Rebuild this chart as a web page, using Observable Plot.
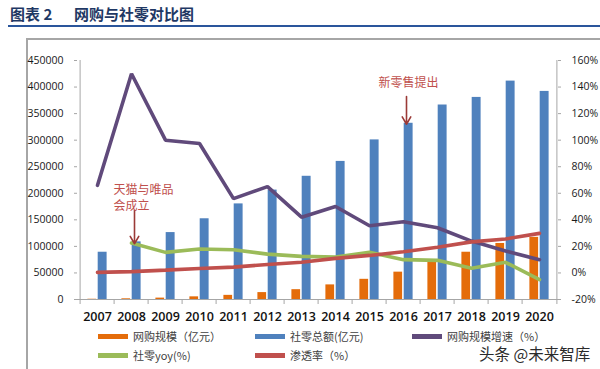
<!DOCTYPE html>
<html>
<head>
<meta charset="utf-8">
<script src="https://cdn.jsdelivr.net/npm/d3@7"></script>
<script src="https://cdn.jsdelivr.net/npm/@observablehq/plot@0.6"></script>
<style>
  body { margin: 0; background: #fff; }
  #wrap { position: relative; width: 600px; height: 369px; overflow: hidden; background: #fff;
          font-family: "Noto Sans CJK SC", "Open Sans", sans-serif; }
  #chart { position: absolute; left: 0; top: 0; }
  .title { position: absolute; top: 5px; font-size: 15px; font-weight: 700; color: #1f3864; line-height: 18px; white-space: nowrap; }
  .uline { position: absolute; left: 8px; top: 25px; width: 592px; height: 2px; background: #2a559b; }
  .ftop { position: absolute; left: 26px; top: 38px; width: 574px; height: 1.5px; background: #a6a6a6; }
  .fleft { position: absolute; left: 26px; top: 38px; width: 1.5px; height: 331px; background: #a6a6a6; }
  .leg { position: absolute; display: flex; align-items: center; font-size: 11px; color: #404040; white-space: nowrap; line-height: 14px; }
  .sw { width: 30px; height: 5px; margin-right: 5px; }
  .wm { position: absolute; left: 479px; top: 343px; font-size: 15.5px; color: #2b2b2b; white-space: nowrap; line-height: 20px; }
</style>
</head>
<body>
<div id="wrap">
  <div class="title" style="left:10px">图表 2</div>
  <div class="title" style="left:74px">网购与社零对比图</div>
  <div class="uline"></div>
  <div class="ftop"></div>
  <div class="fleft"></div>
  <div id="chart"></div>
  <div id="legend"></div>
  <div class="wm">头条 @未来智库</div>
</div>
<script>
// ---- data ----
const years = ["2007","2008","2009","2010","2011","2012","2013","2014","2015","2016","2017","2018","2019","2020"];
const onlineSales = [500, 1300, 2600, 5000, 7800, 13000, 18500, 27500, 38000, 51500, 71800, 89000, 105500, 117000];   // 网购规模（亿元）
const retailSales = [89000, 108500, 126000, 152000, 180000, 206000, 232000, 260000, 300500, 331800, 366200, 380500, 411200, 391800]; // 社零总额(亿元)
const onlineGrowth = [66, 150, 100, 97.5, 56, 65, 42, 50, 35.5, 38.5, 34, 24, 16.5, 10];   // 网购规模增速（%）
const retailYoy = [null, 22.5, 15.5, 18, 17.5, 14.2, 12.5, 12, 15.5, 10, 9.5, 3.5, 8, -5]; // 社零yoy(%)
const penetration = [0.4, 1.0, 2.1, 3.3, 4.4, 6.4, 8.0, 11.0, 13.2, 15.9, 19.3, 23.4, 25.6, 29.8]; // 渗透率（%）
const leftTicks = [0, 50000, 100000, 150000, 200000, 250000, 300000, 350000, 400000, 450000];
const rightTicks = [-20, 0, 20, 40, 60, 80, 100, 120, 140, 160];
const seriesNames = ["网购规模（亿元）", "社零总额(亿元)", "网购规模增速（%）", "社零yoy(%)", "渗透率（%）"];
// annotations
const annoLineYears = ["2008", "2008", "2016"];
const annoLineTexts = ["天猫与唯品", "会成立", "新零售提出"];
const annoLineLevels = [206500, 176000, 406500];   // on left axis scale
const arrowYears = ["2008", "2016"];
const arrowFrom = [167500, 382000];
const arrowTo = [105000, 330000];

// ---- styles ----
const colors = ["#e46c0a", "#4f81bd", "#604a7b", "#9bbb59", "#c0504d"];
const W = 600, H = 369, mL = 74, mR = 39, mT = 60, mB = 70;
const plotW = W - mL - mR, plotH = H - mT - mB;
const bw = plotW / years.length;
const half = bw / 2;
const axisColor = "#a6a6a6";

const rows = years.map((y, i) => ({
  year: y, online: onlineSales[i], retail: retailSales[i],
  growth: onlineGrowth[i], yoy: retailYoy[i], pen: penetration[i]
}));
// right axis (%) mapped onto left axis scale: -20%..160% <-> 0..450000
const toL = p => p == null ? NaN : (p + 20) * 2500;

const textRows = annoLineYears.map((y, i) => ({year: y, text: annoLineTexts[i], ty: annoLineLevels[i]}));
const arrows = arrowYears.map((y, i) => ({year: y, a1: arrowFrom[i], a2: arrowTo[i]}));
const annoFont = "'Noto Sans CJK SC', sans-serif";

const chart = Plot.plot({
  width: W, height: H,
  marginLeft: mL, marginRight: mR, marginTop: mT, marginBottom: mB,
  style: {fontFamily: "'Open Sans', sans-serif", background: "transparent", overflow: "visible"},
  x: {type: "band", domain: years, padding: 0, axis: null},
  y: {domain: [0, 450000], axis: null},
  marks: [
    Plot.barY(rows, {x: "year", y: "online", fill: colors[0], insetLeft: half - 10, insetRight: half + 0.5}),
    Plot.barY(rows, {x: "year", y: "retail", fill: colors[1], insetLeft: half + 0.3, insetRight: half - 10}),
    // axis lines
    Plot.ruleY([0], {stroke: axisColor, strokeWidth: 1}),
    Plot.ruleX([years[0]], {x: d => d, dx: -half, stroke: axisColor}),
    Plot.ruleX([years[years.length - 1]], {x: d => d, dx: half, stroke: axisColor}),
    // category boundary ticks
    Plot.ruleX(years, {x: d => d, dx: -half, stroke: axisColor, insetTop: plotH, insetBottom: -5}),
    Plot.ruleX([years[years.length - 1]], {x: d => d, dx: half, stroke: axisColor, insetTop: plotH, insetBottom: -5}),
    // inward y ticks
    Plot.tickY(leftTicks, {y: d => d, stroke: axisColor, insetRight: plotW - 3}),
    Plot.tickY(rightTicks.map(toL), {y: d => d, stroke: axisColor, insetLeft: plotW - 3}),
    // lines
    Plot.lineY(rows, {x: "year", y: d => toL(d.growth), stroke: colors[2], strokeWidth: 3.6, strokeLinejoin: "miter"}),
    Plot.lineY(rows, {x: "year", y: d => toL(d.yoy), stroke: colors[3], strokeWidth: 3.6, strokeLinejoin: "miter"}),
    Plot.lineY(rows, {x: "year", y: d => toL(d.pen), stroke: colors[4], strokeWidth: 3.6, strokeLinejoin: "miter"}),
    // annotations
    Plot.arrow(arrows, {x1: "year", x2: "year", y1: "a1", y2: "a2", dx: 3, stroke: "#9b3a37", strokeWidth: 1.6, headLength: 8}),
    Plot.text(textRows.slice(0, 2), {x: "year", y: "ty", text: "text", textAnchor: "start", dx: -18, fill: "#c0504d",
      fontSize: 12, fontFamily: annoFont}),
    Plot.text(textRows.slice(2), {x: "year", y: "ty", text: "text", textAnchor: "middle", dx: 5, fill: "#c0504d",
      fontSize: 12, fontFamily: annoFont}),
    // axes
    Plot.axisY(leftTicks, {anchor: "left", tickSize: 0, tickPadding: 11, fontSize: 10.5, tickFormat: d => String(d), label: null, fill: "#1a1a1a"}),
    Plot.axisY(rightTicks.map(toL), {anchor: "right", tickSize: 0, tickPadding: 10, fontSize: 10.5,
      tickFormat: d => `${Math.round(d / 2500 - 20)}%`, label: null, fill: "#1a1a1a"}),
    Plot.axisX({tickSize: 0, tickPadding: 13, fontSize: 12.5, fontWeight: 600, label: null, fill: "#111"})
  ]
});
document.getElementById("chart").appendChild(chart);

// legend (HTML)
const legPos = [[98, 329], [255, 329], [412, 329], [98, 348], [255, 348]];
const legend = document.getElementById("legend");
seriesNames.forEach((name, i) => {
  const d = document.createElement("div");
  d.className = "leg";
  d.style.left = legPos[i][0] + "px";
  d.style.top = legPos[i][1] + "px";
  d.innerHTML = `<span class="sw" style="background:${colors[i]}"></span><span></span>`;
  d.lastChild.textContent = name;
  legend.appendChild(d);
});
</script>
</body>
</html>
